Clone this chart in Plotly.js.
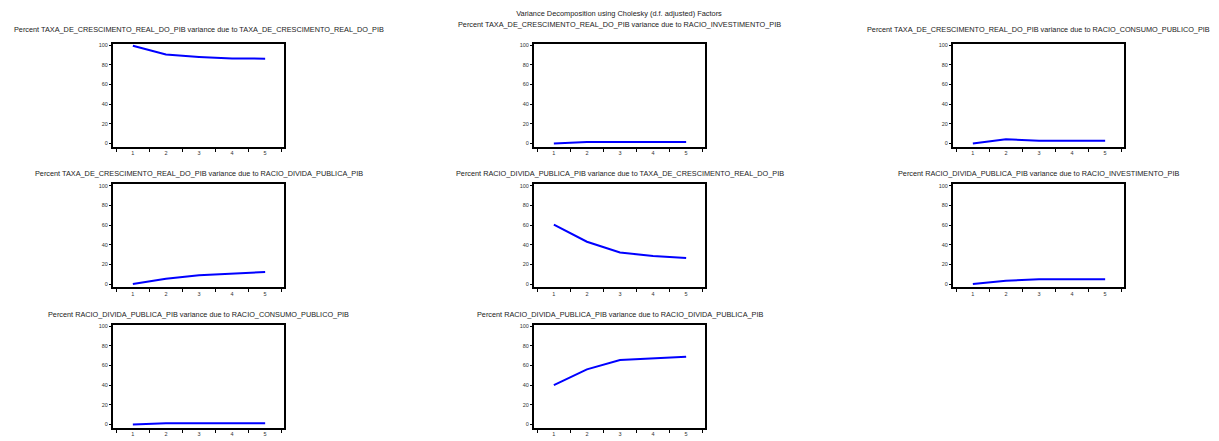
<!DOCTYPE html>
<html>
<head>
<meta charset="utf-8">
<script src="https://cdn.plot.ly/plotly-3.0.1.min.js"></script>
<style>html,body{margin:0;padding:0;background:#fff;}#chart{width:1219px;height:441px;}</style>
</head>
<body>
<div id="chart"></div>
<script>
// ---- data ----
const periods = ['1', '2', '3', '4', '5'];
const yTicks = [0, 20, 40, 60, 80, 100];
const mainTitle = 'Variance Decomposition using Cholesky (d.f. adjusted) Factors';
const panelTitles = [
  'Percent TAXA_DE_CRESCIMENTO_REAL_DO_PIB variance due to TAXA_DE_CRESCIMENTO_REAL_DO_PIB',
  'Percent TAXA_DE_CRESCIMENTO_REAL_DO_PIB variance due to RACIO_INVESTIMENTO_PIB',
  'Percent TAXA_DE_CRESCIMENTO_REAL_DO_PIB variance due to RACIO_CONSUMO_PUBLICO_PIB',
  'Percent TAXA_DE_CRESCIMENTO_REAL_DO_PIB variance due to RACIO_DIVIDA_PUBLICA_PIB',
  'Percent RACIO_DIVIDA_PUBLICA_PIB variance due to TAXA_DE_CRESCIMENTO_REAL_DO_PIB',
  'Percent RACIO_DIVIDA_PUBLICA_PIB variance due to RACIO_INVESTIMENTO_PIB',
  'Percent RACIO_DIVIDA_PUBLICA_PIB variance due to RACIO_CONSUMO_PUBLICO_PIB',
  'Percent RACIO_DIVIDA_PUBLICA_PIB variance due to RACIO_DIVIDA_PUBLICA_PIB'
];
const taxaDueTaxa = [99.4, 90.5, 88.1, 86.4, 86.3];
const taxaDueInvest = [0, 1.5, 1.5, 1.5, 1.5];
const taxaDueConsumo = [0, 4.4, 2.8, 2.8, 2.8];
const taxaDueDivida = [0, 5.5, 9.0, 10.8, 12.3];
const dividaDueTaxa = [60.3, 43.0, 32.0, 28.6, 26.6];
const dividaDueInvest = [0, 3.4, 5.0, 5.0, 5.0];
const dividaDueConsumo = [0, 1.4, 1.4, 1.4, 1.4];
const dividaDueDivida = [40.0, 56.1, 65.5, 67.2, 68.9];

const seriesList = [taxaDueTaxa, taxaDueInvest, taxaDueConsumo, taxaDueDivida,
                    dividaDueTaxa, dividaDueInvest, dividaDueConsumo, dividaDueDivida];

// ---- layout geometry (pixels) ----
const W = 1219, H = 441;
const colLeft = [113, 534, 953];
const boxW = 171;
const rowTop = [43.5, 184, 324.5];
const boxH = 103;
const titleY = [[30, 25, 30], [173, 173, 173], [314, 314, 314]];

const font = 'Arial, "Liberation Sans", sans-serif';
const traces = [];
const layout = {
  width: W, height: H,
  margin: {l: 0, r: 0, t: 0, b: 0},
  paper_bgcolor: '#fff', plot_bgcolor: '#fff',
  showlegend: false,
  font: {family: font, color: '#000'},
  title: {text: mainTitle, font: {family: font, size: 7.4, color: '#222'},
          x: 619 / W, xanchor: 'center', y: 1 - 13 / H, yanchor: 'middle'},
  annotations: []
};

seriesList.forEach((vals, i) => {
  const row = Math.floor(i / 3), col = i % 3;
  const n = i + 1;
  const xa = 'xaxis' + (n === 1 ? '' : n), ya = 'yaxis' + (n === 1 ? '' : n);
  const xr = 'x' + (n === 1 ? '' : n), yr = 'y' + (n === 1 ? '' : n);
  traces.push({x: periods, y: vals, type: 'scatter', mode: 'lines',
               line: {color: '#0000FF', width: 2}, xaxis: xr, yaxis: yr, hoverinfo: 'skip'});
  const x0 = colLeft[col] / W, x1 = (colLeft[col] + boxW) / W;
  const y1 = 1 - rowTop[row] / H, y0 = 1 - (rowTop[row] + boxH) / H;
  layout[xa] = {
    domain: [x0, x1], anchor: yr, type: 'category', range: [-0.6, 4.57],
    tickson: 'boundaries', ticks: 'outside', ticklen: 3, tickwidth: 1, tickcolor: '#000',
    showline: true, linewidth: 2, linecolor: '#000', mirror: true,
    showgrid: false, zeroline: false, fixedrange: true,
    tickfont: {family: font, size: 5.5, color: '#333'}
  };
  layout[ya] = {
    domain: [y0, y1], anchor: xr, range: [-3, 101.7], tickvals: yTicks,
    ticks: 'outside', ticklen: 2, tickwidth: 1, tickcolor: '#000',
    showline: true, linewidth: 2, linecolor: '#000', mirror: true,
    showgrid: false, zeroline: false, fixedrange: true,
    tickfont: {family: font, size: 5.5, color: '#333'}
  };
  layout.annotations.push({
    text: panelTitles[i], xref: 'paper', yref: 'paper',
    x: (colLeft[col] + boxW / 2) / W, y: 1 - titleY[row][col] / H,
    xanchor: 'center', yanchor: 'middle', showarrow: false,
    font: {family: font, size: 7.3, color: '#222'}
  });
});

Plotly.newPlot('chart', traces, layout, {staticPlot: true, displayModeBar: false});
</script>
</body>
</html>
